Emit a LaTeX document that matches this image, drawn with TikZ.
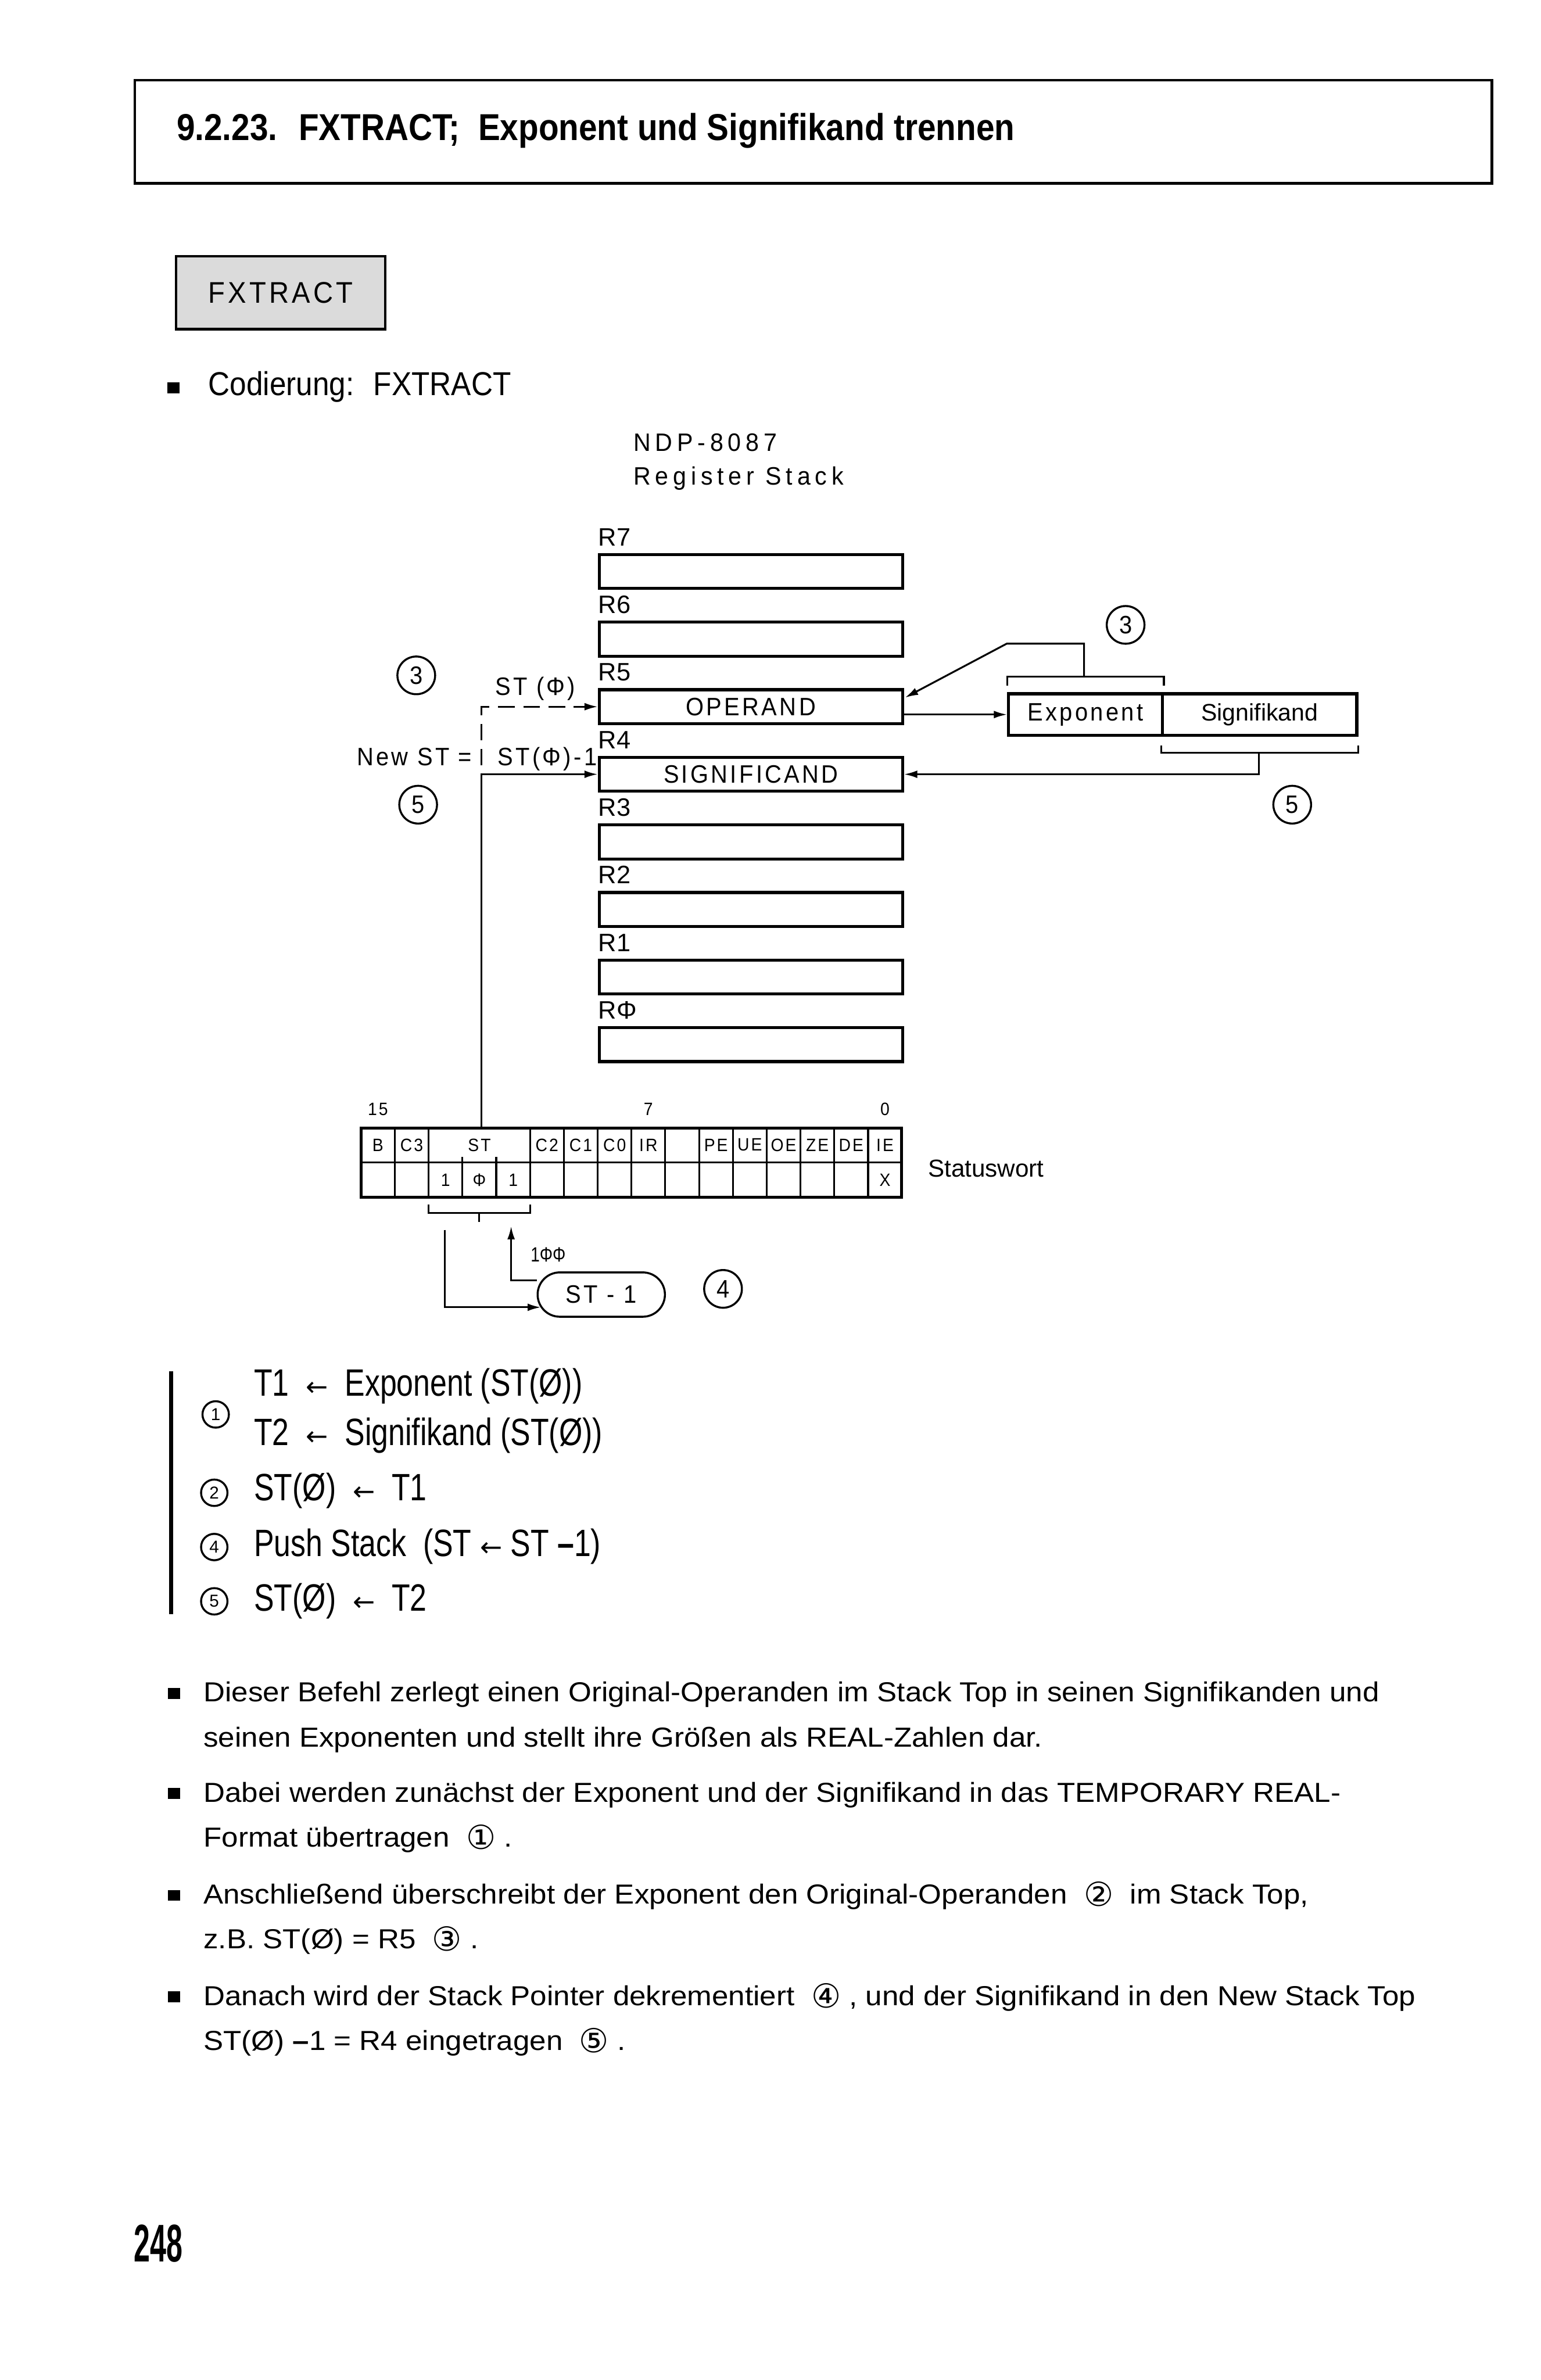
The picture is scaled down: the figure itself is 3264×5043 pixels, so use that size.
\documentclass[tikz,border=0pt]{standalone}
\usepackage{fontspec}
\setmainfont{Liberation Sans}
\newfontfamily\headfont{Liberation Sans}[FakeStretch=0.88]
\newfontfamily\condfont{Liberation Sans}[FakeStretch=0.79]
\newfontfamily\midfont{Liberation Sans}[FakeStretch=0.9]
\newfontfamily\bodyfont{Liberation Sans}[FakeStretch=1.08]
\newfontfamily\numfont{Liberation Sans}[FakeStretch=0.55]
\newfontfamily\dinfont{Liberation Sans}[LetterSpace=10,FakeStretch=0.92]
\newfontfamily\widedinfont{Liberation Sans}[LetterSpace=18,FakeStretch=0.95]
\newfontfamily\symfont{DejaVu Sans}
\usetikzlibrary{shapes.misc, arrows.meta, positioning, calc}

\newcommand{\setsz}[1]{\fontsize{#1}{#1}\selectfont}
\newcommand{\larr}{{\symfont\setsz{8}←}}
\newcommand{\circno}[1]{\raisebox{-0.7pt}{\symfont\setsz{10}#1}}

\begin{document}
\begin{tikzpicture}[
    x=0.005cm, y=-0.005cm,
    reg/.style={draw, line width=0.9pt, minimum width=3.215cm, minimum height=0.36cm, inner sep=0pt, font=\dinfont\setsz{7.6}},
    reglab/.style={inner sep=0pt, font=\setsz{7.6}},
    dintext/.style={inner sep=0pt, font=\dinfont\setsz{7.6}},
    stepno/.style={circle, draw, line width=0.6pt, minimum size=0.4cm, inner sep=0pt, font=\dinfont\setsz{7.6}},
    opno/.style={circle, draw, line width=0.6pt, minimum size=0.28cm, inner sep=0pt, font=\setsz{5.2}},
    bitcell/.style={inner sep=0pt, font=\dinfont\setsz{5.4}},
    body/.style={inner sep=0pt, font=\bodyfont\setsz{8.3}},
    opline/.style={inner sep=0pt, font=\condfont\setsz{11.5}},
    bullet/.style={fill, minimum width=0.13cm, minimum height=0.115cm, inner sep=0pt},
    conn/.style={line width=0.55pt},
    arr/.style={conn, -{Latex[length=4pt, width=2.3pt]}},
    dashconn/.style={arr, dash pattern=on 5pt off 2.6pt}
]
    % Page
    \fill[white] (0,0) rectangle (3264,5043);

    % Heading
    \node[draw, line width=0.8pt, minimum width=14.39cm, minimum height=1.095cm, inner sep=0pt, anchor=north west] (head) at (283,167) {};
    \node[inner sep=0pt, anchor=base west, font=\headfont\bfseries\setsz{11.3}] (title) at (373,297) {9.2.23.~ FXTRACT;~ Exponent und Signifikand trennen};
    \node[draw, fill=gray!28, line width=0.8pt, minimum width=2.22cm, minimum height=0.775cm, inner sep=0pt, anchor=north west, font=\dinfont\setsz{9}] (instr) at (370,540) {FXTRACT};
    \node[bullet] (b0) at (368,822) {};
    \node[inner sep=0pt, anchor=base west, font=\midfont\setsz{10}] (cod) at (440,838) {Codierung:~ FXTRACT};

    % Register stack
    \node[inner sep=0pt, anchor=base west, font=\widedinfont\setsz{7.6}] (ndp) at (1341,956) {NDP-8087};
    \node[inner sep=0pt, anchor=base west, font=\widedinfont\setsz{7.6}] (rstack) at (1341,1027) {Register Stack};
    \foreach \i/\n/\t in {7/R7/{}, 6/R6/{}, 5/R5/OPERAND, 4/R4/SIGNIFICAND, 3/R3/{}, 2/R2/{}, 1/R1/{}, 0/RΦ/{}} {
        \node[reg] (r\i) at (1591,{1211+143.2*(7-\i)}) {\t};
        \node[reglab, anchor=south west] (l\i) at ([yshift=0.07cm]r\i.north west) {\n};
    }

    % Stack pointer
    \node[stepno] (c3l) at (882,1431) {3};
    \node[dintext, anchor=base west] (st0) at (1048,1473) {ST (Φ)};
    \node[dintext, anchor=base west] (newst) at (755,1622) {New ST =};
    \node[dintext, anchor=base west] (st0m) at (1053,1622) {ST(Φ)-1};
    \node[stepno] (c5l) at (886,1705) {5};

    % Status word
    \node[draw, line width=0.9pt, outer sep=0pt, minimum width=5.73cm, minimum height=0.735cm, inner sep=0pt, anchor=north west] (sw) at (765,2390) {};
    \draw[conn] (sw.west) -- (sw.east);
    \foreach \k in {1,2,5,6,7,8,9,10,11,12,13,14,15}
        \draw[conn] ($(sw.north west)+({71.625*\k},0)$) -- ($(sw.south west)+({71.625*\k},0)$);
    \foreach \k in {3,4}
        \draw[conn] ($(sw.south west)+({71.625*\k},-85)$) -- ($(sw.south west)+({71.625*\k},0)$);
    \foreach \t/\k in {B/0, C3/1, ST/3, C2/5, C1/6, C0/7, IR/8, PE/10, UE/11, OE/12, ZE/13, DE/14, IE/15}
        \node[bitcell] (f\k) at ({765+71.625*(\k+0.5)},2426) {\t};
    \foreach \t/\k in {1/2, Φ/3, 1/4, X/15}
        \node[bitcell] (v\k) at ({765+71.625*(\k+0.5)},2500) {\t};
    \foreach \t/\k in {15/0, 7/8, 0/15}
        \node[bitcell, anchor=base] (n\k) at ({765+71.625*(\k+0.5)},2363) {\t};
    \node[inner sep=0pt, anchor=west, font=\setsz{7.4}] (swlab) at (1965,2476) {Statuswort};

    % Decrement of ST
    \draw[conn] ($(sw.south west)+(143,15)$) -- ++(0,18) -| ($(sw.south west)+(358,15)$);
    \draw[conn] ($(sw.south west)+(250,33)$) -- ++(0,19);
    \node[draw, rounded rectangle, line width=0.6pt, minimum width=1.35cm, minimum height=0.47cm, inner sep=0pt, font=\dinfont\setsz{7.6}] (st1) at (1274,2743) {ST - 1};
    \node[stepno] (c4) at (1532,2731) {4};
    \coordinate (loopin) at (943,2606);
    \coordinate (uptip) at (1083,2598);
    \draw[arr] (loopin) |- ($(st1.west)+(9,27)$);
    \draw[arr] ($(st1.west)+(0,-30)$) -| (uptip);
    \node[inner sep=0pt, anchor=base west, font=\condfont\setsz{6.2}] (newval) at (1123,2673) {1ΦΦ};

    % Links to the stack
    \coordinate (stptr) at ($(sw.north west)+(255,0)$);
    \draw[dashconn] (stptr |- st0m.base) |- (r5.west);
    \draw[arr] (stptr) |- (r4.west);

    % Exponent / Signifikand
    \node[draw, line width=0.9pt, minimum width=1.63cm, minimum height=0.44cm, inner sep=0pt, font=\dinfont\setsz{7.6}] (expo) at (2300,1514) {Exponent};
    \node[draw, line width=0.9pt, minimum width=2.06cm, minimum height=0.44cm, inner sep=0pt, font=\setsz{7.2}] (sigf) at (2669,1514) {Signifikand};
    \node[stepno] (c3r) at (2385,1324) {3};
    \node[stepno] (c5r) at (2738,1705) {5};
    \draw[arr] (r5.east |- expo.west) -- (expo.west);
    \draw[conn] ($(expo.north west)+(0,-14)$) -- ++(0,-19) -| ($(expo.north east)+(0,-14)$);
    \draw[arr] ($(expo.north)+(-3,-33)$) -- ++(0,-70) -- ++(-164,0) -- ($(r5.north east)+(2,20)$);
    \draw[conn] ($(sigf.south west)+(0,19)$) -- ++(0,15) -| ($(sigf.south east)+(0,19)$);
    \draw[arr] ($(sigf.south)+(-2,34)$) |- (r4.east);

    % Operations
    \draw[line width=1.2pt] (363,2905) -- (363,3420);
    \node[opno] (o1) at (457,2997) {1};
    \node[opline, anchor=base west] (op1a) at (537,2958) {T1~ \larr~ Exponent (ST(Ø))};
    \node[opline, anchor=base west] (op1b) at (537,3063) {T2~ \larr~ Signifikand (ST(Ø))};
    \node[opno] (o2) at (454,3163) {2};
    \node[opline, anchor=base west] (op2) at (537,3179) {ST(Ø)~ \larr~ T1};
    \node[opno] (o4) at (454,3278) {4};
    \node[opline, anchor=base west] (op4) at (537,3298) {Push Stack~ (ST \larr\ ST {\bfseries –}1)};
    \node[opno] (o5) at (454,3393) {5};
    \node[opline, anchor=base west] (op5) at (537,3414) {ST(Ø)~ \larr~ T2};

    % Description
    \node[bullet] (b1) at (369,3588) {};
    \node[body, anchor=base west] (p1a) at (430,3606) {Dieser Befehl zerlegt einen Original-Operanden im Stack Top in seinen Signifikanden und};
    \node[body, anchor=base west] (p1b) at (430,3701) {seinen Exponenten und stellt ihre Größen als REAL-Zahlen dar.};
    \node[bullet] (b2) at (369,3800) {};
    \node[body, anchor=base west] (p2a) at (430,3818) {Dabei werden zunächst der Exponent und der Signifikand in das TEMPORARY REAL-};
    \node[body, anchor=base west] (p2b) at (430,3913) {Format übertragen~ \circno{①}~.};
    \node[bullet] (b3) at (369,4016) {};
    \node[body, anchor=base west] (p3a) at (430,4034) {Anschließend überschreibt der Exponent den Original-Operanden~ \circno{②}~ im Stack Top,};
    \node[body, anchor=base west] (p3b) at (430,4129) {z.B. ST(Ø) = R5~ \circno{③}~.};
    \node[bullet] (b4) at (369,4231) {};
    \node[body, anchor=base west] (p4a) at (430,4249) {Danach wird der Stack Pointer dekrementiert~ \circno{④}~, und der Signifikand in den New Stack Top};
    \node[body, anchor=base west] (p4b) at (430,4344) {ST(Ø) {\bfseries –}1 = R4 eingetragen~ \circno{⑤}~.};

    \node[inner sep=0pt, anchor=base west, font=\numfont\bfseries\setsz{16}] (pageno) at (283,4792) {248};
\end{tikzpicture}
\end{document}
